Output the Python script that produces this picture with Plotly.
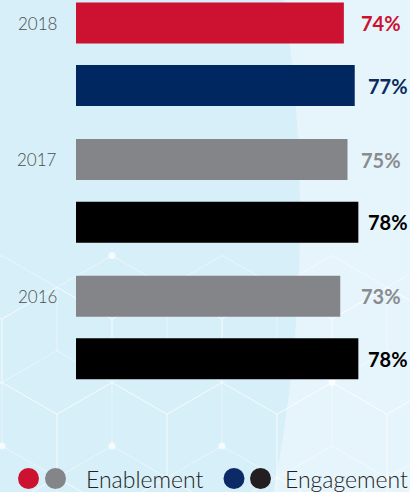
import plotly.graph_objects as go

# ---------------- data ----------------
years = ["2018", "2017", "2016"]
enablement = [74, 75, 73]
engagement = [77, 78, 78]
enablement_colors = ["#cc1230", "#848589", "#848589"]
engagement_colors = ["#00275f", "#000000", "#000000"]
enablement_label_colors = ["#cc1230", "#8a8b8e", "#8a8b8e"]
engagement_label_colors = ["#0b2a60", "#000000", "#000000"]
legend_names = ["Enablement", "Engagement"]
legend_dots = [["#cc1230", "#848589"], ["#0b2a66", "#231f20"]]

# ---------------- layout geometry ----------------
W, H = 410, 492
ML, MR, MT, MB = 76, 0, 0, 92
PW, PH = W - ML - MR, H - MT - MB


def px(x):
    return (x - ML) / PW


def py(y):
    return (MT + PH - y) / PH


FONT = "Lato"
BG_LIGHT = "#e6f5fc"
BG_DARK = "#d6eff8"

fig = go.Figure()
fig.add_trace(go.Bar(
    y=years, x=enablement, orientation="h", name=legend_names[0],
    marker=dict(color=enablement_colors, line=dict(width=0)),
    showlegend=False, hoverinfo="skip",
))
fig.add_trace(go.Bar(
    y=years, x=engagement, orientation="h", name=legend_names[1],
    marker=dict(color=engagement_colors, line=dict(width=0)),
    showlegend=False, hoverinfo="skip",
))

shapes = []
# big background circle (darker region on the left)
R = 1450
cxp, cyp = 300 - R, 215
shapes.append(dict(type="circle", xref="paper", yref="paper",
                   x0=px(cxp - R), x1=px(cxp + R), y0=py(cyp + R), y1=py(cyp - R),
                   fillcolor=BG_DARK, line=dict(width=0), layer="below"))

# hexagonal "tumbling block" decoration
s = 63.5
h = 55.0
segs = []
for k, cy in enumerate([541.0, 446.0, 350.75, 255.5]):
    x_off = 57.0 if k % 2 == 0 else 2.0
    for i in range(-1, 6):
        cx = x_off + 110 * i
        top = (cx, cy - s)
        ur = (cx + h, cy - s / 2)
        lr = (cx + h, cy + s / 2)
        bot = (cx, cy + s)
        ll = (cx - h, cy + s / 2)
        ul = (cx - h, cy - s / 2)
        ring = [top, ur, lr, bot, ll, ul, top]
        for a, b in zip(ring[:-1], ring[1:]):
            segs.append((a, b))
        for v in (top, ll, lr):
            segs.append(((cx, cy), v))
path = ""
for (a, b) in segs:
    if min(a[1], b[1]) < 252:
        continue
    path += f"M{px(a[0]):.5f},{py(a[1]):.5f} L{px(b[0]):.5f},{py(b[1]):.5f} "
shapes.append(dict(type="path", xref="paper", yref="paper", path=path,
                   line=dict(color="rgba(255,255,255,0.45)", width=1), layer="below"))
for (dx, dy) in [(112, 255.5), (2, 446), (112, 446), (222, 446), (332, 382.5)]:
    r = 3.5
    shapes.append(dict(type="circle", xref="paper", yref="paper",
                       x0=px(dx - r), x1=px(dx + r), y0=py(dy + r), y1=py(dy - r),
                       fillcolor="rgba(255,255,255,0.7)", line=dict(width=0), layer="below"))

# legend dots
legend_dot_x = [[28.5, 55.5], [234, 260.5]]
for grp_cols, grp_x in zip(legend_dots, legend_dot_x):
    for c, x in zip(grp_cols, grp_x):
        r = 10.5
        shapes.append(dict(type="circle", xref="paper", yref="paper",
                           x0=px(x - r), x1=px(x + r), y0=py(478.5 + r), y1=py(478.5 - r),
                           fillcolor=c, line=dict(width=0), layer="above"))

annotations = []
slot_shift = 31.25
for idx, (v, c) in enumerate(zip(enablement, enablement_label_colors)):
    annotations.append(dict(xref="paper", yref="y", x=px(381), y=idx, yshift=slot_shift,
                            text=f"{v}%", showarrow=False, xanchor="center", yanchor="middle",
                            font=dict(family=FONT, size=20, color=c, weight="bold")))
for idx, (v, c) in enumerate(zip(engagement, engagement_label_colors)):
    annotations.append(dict(xref="paper", yref="y", x=px(388), y=idx, yshift=-slot_shift,
                            text=f"{v}%", showarrow=False, xanchor="center", yanchor="middle",
                            font=dict(family=FONT, size=20, color=c, weight="bold")))
for idx, yr in enumerate(years):
    annotations.append(dict(xref="paper", yref="y", x=px(59), y=idx, yshift=slot_shift,
                            text=yr, showarrow=False, xanchor="right", yanchor="middle",
                            font=dict(family=FONT, size=17, color="#4d4d4d", weight=300)))
for name, x in zip(legend_names, [84, 283]):
    annotations.append(dict(xref="paper", yref="paper", x=px(x), y=py(478.5),
                            text=name, showarrow=False, xanchor="left", yanchor="middle",
                            font=dict(family=FONT, size=23, color="#222222", weight=300)))

fig.update_layout(
    width=W, height=H, autosize=False,
    margin=dict(l=ML, r=MR, t=MT, b=MB, pad=0),
    paper_bgcolor=BG_LIGHT, plot_bgcolor="rgba(0,0,0,0)",
    barmode="group", bargap=0.0842, bargroupgap=0.344,
    xaxis=dict(range=[0, 92.27], visible=False, showgrid=False, zeroline=False, fixedrange=True),
    yaxis=dict(type="category", categoryorder="array", categoryarray=years,
               range=[2.531, -0.3974], visible=False, showgrid=False, zeroline=False,
               fixedrange=True),
    shapes=shapes, annotations=annotations,
    font=dict(family=FONT),
)

fig.write_html("out.html", config={"displayModeBar": False},
               post_script="document.body.style.margin='0';document.body.style.overflow='hidden';")
